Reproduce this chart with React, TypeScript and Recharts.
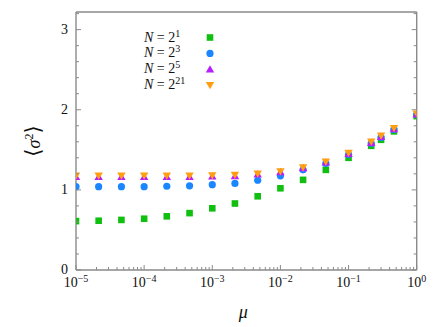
import React from 'react';
import { ScatterChart, Scatter, XAxis, YAxis, Legend } from 'recharts';

// ---- data ----
const muValues = [1e-5, 2.15e-5, 4.64e-5, 1e-4, 2.15e-4, 4.64e-4, 1e-3, 2.15e-3, 4.64e-3, 1e-2, 2.15e-2, 4.64e-2, 0.1, 0.215, 0.3, 0.464, 1];
const sigmaN2 = [0.61, 0.615, 0.625, 0.64, 0.67, 0.71, 0.77, 0.83, 0.92, 1.02, 1.125, 1.25, 1.4, 1.55, 1.625, 1.73, 1.92];
const sigmaN8 = [1.04, 1.04, 1.04, 1.04, 1.045, 1.05, 1.065, 1.08, 1.12, 1.175, 1.25, 1.33, 1.44, 1.58, 1.655, 1.755, 1.94];
const sigmaN32 = [1.165, 1.165, 1.165, 1.165, 1.165, 1.165, 1.17, 1.175, 1.195, 1.225, 1.275, 1.345, 1.45, 1.59, 1.665, 1.76, 1.945];
const sigmaN2e21 = [1.175, 1.175, 1.175, 1.175, 1.175, 1.175, 1.18, 1.185, 1.2, 1.23, 1.28, 1.35, 1.46, 1.6, 1.675, 1.77, 1.95];
const seriesExponents = ['1', '3', '5', '21'];

const xMajorTicks = [1e-5, 1e-4, 1e-3, 1e-2, 1e-1, 1];
const xMinorMultipliers = [2, 3, 4, 5, 6, 7, 8, 9];
const yTicks = [0, 0.2, 0.4, 0.6, 0.8, 1, 1.2, 1.4, 1.6, 1.8, 2, 2.2, 2.4, 2.6, 2.8, 3, 3.2];
const xDomain = [1e-5, 1];
const yDomain = [0, 3.22];

const xTicks: number[] = [];
xMajorTicks.forEach((d, i) => {
  xTicks.push(d);
  if (i < xMajorTicks.length - 1) xMinorMultipliers.forEach((m) => xTicks.push(m * d));
});

const AXIS = '#8a8a8a';
const FONT = '"Liberation Serif", "DejaVu Serif", serif';

const COLORS = ['#10bf10', '#1a86ff', '#b91cff', '#ff9e12'];

const isMajorX = (v: number) => Math.abs(Math.log10(v) - Math.round(Math.log10(v))) < 1e-6;
const isMajorY = (v: number) => Math.abs(v - Math.round(v)) < 1e-6;

const expLabel = (v: number) => {
  const e = Math.round(Math.log10(v));
  return e < 0 ? '\u2212' + Math.abs(e) : String(e);
};

const BottomTick = (props: any) => {
  const { x, y, payload } = props;
  const major = isMajorX(payload.value);
  return (
    <g>
      <line x1={x} x2={x} y1={y} y2={y - (major ? 5 : 3)} stroke={AXIS} strokeWidth={1} />
      {major && (
        <text x={x} y={y + 17} textAnchor="middle" fontFamily={FONT} fontSize={14} fill="#111">
          10<tspan dy={-5} fontSize={10}>{expLabel(payload.value)}</tspan>
        </text>
      )}
    </g>
  );
};

const TopTick = (props: any) => {
  const { x, y, payload } = props;
  const major = isMajorX(payload.value);
  return <line x1={x} x2={x} y1={y} y2={y + (major ? 5 : 3)} stroke={AXIS} strokeWidth={1} />;
};

const LeftTick = (props: any) => {
  const { x, y, payload } = props;
  const major = isMajorY(payload.value);
  return (
    <g>
      <line x1={x} x2={x + (major ? 5 : 3)} y1={y} y2={y} stroke={AXIS} strokeWidth={1} />
      {major && (
        <text x={x - 8} y={y - 1} dy="0.35em" textAnchor="end" fontFamily={FONT} fontSize={14} fill="#111">
          {String(Math.round(payload.value))}
        </text>
      )}
    </g>
  );
};

const RightTick = (props: any) => {
  const { x, y, payload } = props;
  const major = isMajorY(payload.value);
  return <line x1={x} x2={x - (major ? 5 : 3)} y1={y} y2={y} stroke={AXIS} strokeWidth={1} />;
};

const Square = (p: any) => <rect x={p.cx - 3.3} y={p.cy - 3.3} width={6.6} height={6.6} fill={COLORS[0]} />;
const Dot = (p: any) => <circle cx={p.cx} cy={p.cy} r={3.6} fill={COLORS[1]} />;
const UpTri = (p: any) => (
  <path d={`M${p.cx},${p.cy - 4} L${p.cx + 4.2},${p.cy + 3.3} L${p.cx - 4.2},${p.cy + 3.3} Z`} fill={COLORS[2]} />
);
const DownTri = (p: any) => (
  <path d={`M${p.cx},${p.cy + 4} L${p.cx + 4.2},${p.cy - 3.3} L${p.cx - 4.2},${p.cy - 3.3} Z`} fill={COLORS[3]} />
);

const shapes = [Square, Dot, UpTri, DownTri];
const seriesValues = [sigmaN2, sigmaN8, sigmaN32, sigmaN2e21];

const series = seriesValues.map((vals, i) => ({
  name: `N = 2^${seriesExponents[i]}`,
  exp: seriesExponents[i],
  color: COLORS[i],
  shape: shapes[i],
  data: muValues.map((mu, j) => ({ mu, s: vals[j] })),
}));

const LegendContent = () => (
  <svg width={90} height={72} style={{ overflow: 'visible', display: 'block' }}>
    {series.map((s, i) => {
      const base = 16.5 + i * 15.9;
      const Shape = s.shape;
      return (
        <g key={s.name}>
          <text x={4} y={base} fontFamily={FONT} fontSize={14} fill="#111">
            <tspan fontStyle="italic">N</tspan>
            <tspan> = 2</tspan>
            <tspan dy={-5} fontSize={10}>{s.exp}</tspan>
          </text>
          <Shape cx={70} cy={base - 4} />
        </g>
      );
    })}
  </svg>
);

const YLabel = (props: any) => {
  const vb = props.viewBox || {};
  const cy = vb.y + vb.height / 2;
  const cx = 34;
  return (
    <text x={cx} y={cy} transform={`rotate(-90, ${cx}, ${cy})`} textAnchor="middle" dy="0.35em" fontFamily={FONT} fontSize={18} fill="#111">
      <tspan fontFamily='"DejaVu Serif", serif' fontSize={21}>⟨</tspan>
      <tspan fontStyle="italic">σ</tspan>
      <tspan dy={-7} fontSize={12}>2</tspan>
      <tspan dy={7} fontFamily='"DejaVu Serif", serif' fontSize={21}>⟩</tspan>
    </text>
  );
};

const XLabel = (props: any) => {
  const vb = props.viewBox || {};
  const cx = vb.x + vb.width / 2 - 3;
  return (
    <text x={cx} y={318} textAnchor="middle" fontFamily={FONT} fontStyle="italic" fontSize={18} fill="#111">
      μ
    </text>
  );
};

export default function App() {
  return (
    <div style={{ position: 'absolute', left: 0, top: 0, background: '#fff' }}>
      <ScatterChart width={436} height={327} margin={{ top: 2, right: 9.3, bottom: 27, left: 36 }}>
        <XAxis
          dataKey="mu"
          type="number"
          scale="log"
          domain={xDomain}
          allowDataOverflow
          ticks={xTicks}
          interval={0}
          tick={<BottomTick />}
          tickSize={0}
          tickMargin={0}
          tickLine={false}
          axisLine={{ stroke: AXIS, strokeWidth: 1.4 }}
          height={30}
          label={{ content: <XLabel /> }}
        />
        <XAxis
          xAxisId="top"
          orientation="top"
          type="number"
          scale="log"
          domain={xDomain}
          allowDataOverflow
          ticks={xTicks}
          interval={0}
          tick={<TopTick />}
          tickSize={0}
          tickMargin={0}
          tickLine={false}
          axisLine={{ stroke: AXIS, strokeWidth: 1.4 }}
          height={10}
        />
        <YAxis
          dataKey="s"
          type="number"
          domain={yDomain}
          allowDataOverflow
          ticks={yTicks}
          interval={0}
          tick={<LeftTick />}
          tickSize={0}
          tickMargin={0}
          tickLine={false}
          axisLine={{ stroke: AXIS, strokeWidth: 1.4 }}
          width={40}
          label={{ content: <YLabel /> }}
        />
        <YAxis
          yAxisId="right"
          orientation="right"
          type="number"
          domain={yDomain}
          allowDataOverflow
          ticks={yTicks}
          interval={0}
          tick={<RightTick />}
          tickSize={0}
          tickMargin={0}
          tickLine={false}
          axisLine={{ stroke: AXIS, strokeWidth: 1.4 }}
          width={10}
        />
        <Legend
          layout="horizontal"
          verticalAlign="middle"
          align="center"
          content={<LegendContent />}
          wrapperStyle={{ position: 'absolute', left: 140, top: 25, width: 90, height: 72 }}
        />
        {series.map((s) => (
          <Scatter
            key={s.name}
            name={s.name}
            data={s.data}
            fill={s.color}
            shape={s.shape}
            isAnimationActive={false}
          />
        ))}
      </ScatterChart>
    </div>
  );
}
